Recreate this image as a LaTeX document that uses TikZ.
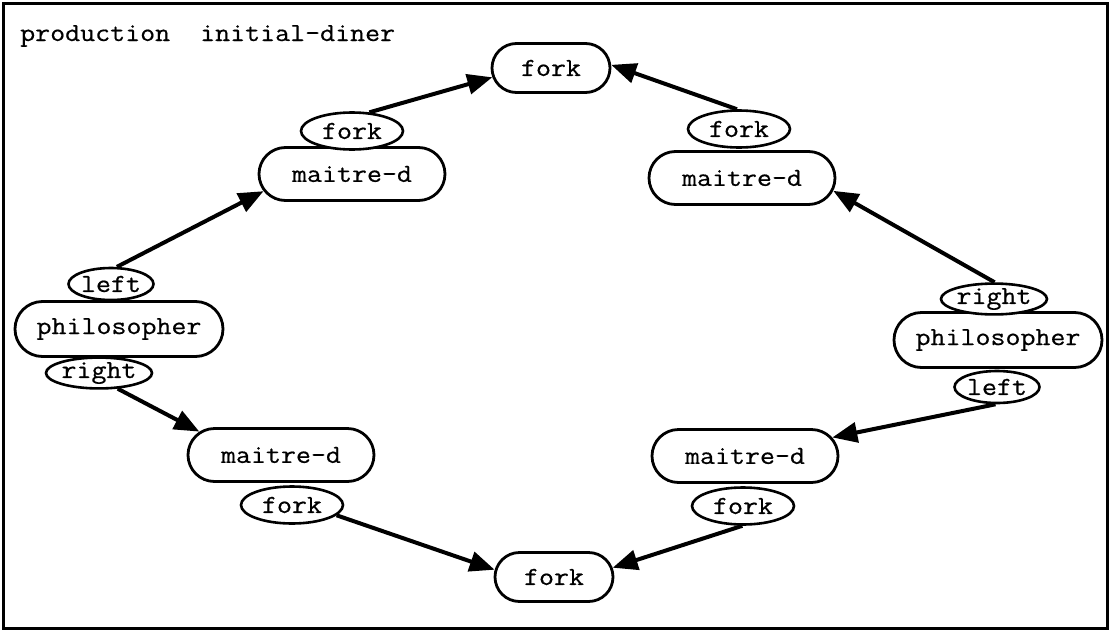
\documentclass[tikz,border=0pt]{standalone}
\usepackage{fontspec}
\setmonofont{Latin Modern Mono}[FakeStretch=1.12,FakeBold=0.5]
\usetikzlibrary{shapes.misc,shapes.geometric,arrows.meta}
\begin{document}
\begin{tikzpicture}[x=1pt,y=-1pt,
  every node/.style={font=\ttfamily\fontsize{26}{30}\selectfont, inner sep=0pt},
  box/.style={draw, rounded rectangle, line width=2.8pt, minimum height=52pt, fill=white},
  forkbox/.style={box, minimum width=118pt, minimum height=49pt},
  mdbox/.style={box, minimum width=186pt, minimum height=53pt},
  philbox/.style={box, minimum width=208pt, minimum height=55pt},
  tag/.style={draw, ellipse, line width=2.6pt, fill=white},
  forktag/.style={tag, minimum width=102pt, minimum height=37pt},
  lefttag/.style={tag, minimum width=85pt, minimum height=32pt},
  righttag/.style={tag, minimum width=98pt, minimum height=28pt},
  link/.style={line width=4pt, -{Triangle[length=25pt,width=20pt]}},
]
\useasboundingbox (0,0) rectangle (1113,632);
\draw[line width=3pt] (3,3) rectangle (1107,628);

\node[anchor=base west] (title) at (20,41) {production\ \ initial-diner};

% forks
\node[forkbox] (forkT) at (551,68) {fork};
\node[forkbox] (forkB) at (554,577) {fork};

% maitre-d boxes
\node[mdbox] (mdTL) at (352,174) {maitre-d};
\node[mdbox] (mdTR) at (742,178) {maitre-d};
\node[mdbox] (mdBL) at (281,455) {maitre-d};
\node[mdbox] (mdBR) at (745,456) {maitre-d};

% philosophers
\node[philbox] (philL) at (119,329) {philosopher};
\node[philbox] (philR) at (998,340) {philosopher};

% tags
\node[forktag] (eTL) at (352,131) {fork};
\node[forktag] (eTR) at (739,129) {fork};
\node[forktag] (eBL) at (292,505) {fork};
\node[forktag] (eBR) at (743,506) {fork};
\node[lefttag] (eLl) at (111,284) {left};
\node[righttag] (eLr) at (99,373) {right};
\node[righttag] (eRr) at (994,299) {right};
\node[lefttag] (eRl) at (997,387) {left};

% connectors
\draw[link] (eLl.71) -- (mdTL.191);
\draw[link] (eTL.47) -- (forkT.189);
\draw[link] (eTR.96) -- (forkT.3);
\draw[link] (eRr.88) -- (mdTR.352);
\draw[link] (eLr.320) -- (mdBL.164);
\draw[link] (eBL.347) -- (forkB.173);
\draw[link] (eRl.265) -- (mdBR.12);
\draw[link] (eBR.268) -- (forkB.9);
\end{tikzpicture}
\end{document}
